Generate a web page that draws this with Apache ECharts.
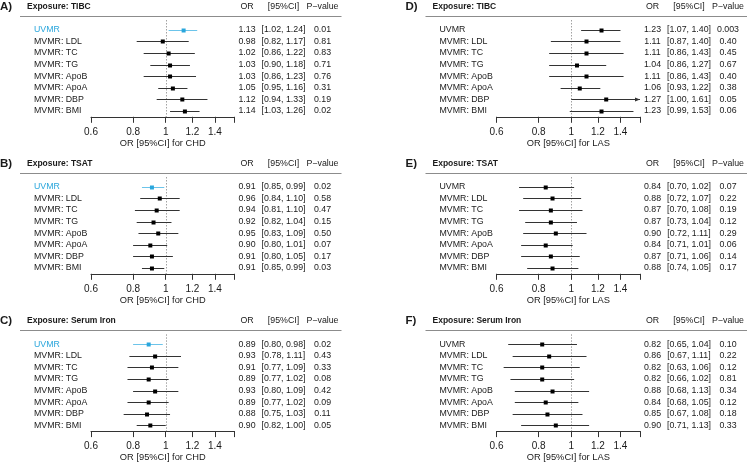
<!DOCTYPE html>
<html><head><meta charset="utf-8">
<script src="https://cdn.jsdelivr.net/npm/echarts@6/dist/echarts.min.js"></script>
<style>html,body{margin:0;padding:0;background:#fff}#c{width:750px;height:465px}</style>
</head><body><div id="c"></div>
<script>
// ---- data ----
const rowLabels = ['UVMR','MVMR: LDL','MVMR: TC','MVMR: TG','MVMR: ApoB','MVMR: ApoA','MVMR: DBP','MVMR: BMI'];
const panelLetters = ['A)','B)','C)','D)','E)','F)'];
const exposures = ['TIBC','TSAT','Serum Iron','TIBC','TSAT','Serum Iron'];
const outcomes = ['CHD','CHD','CHD','LAS','LAS','LAS'];
const highlightUVMR = [true,true,true,false,false,false];
const columnHeaders = ['OR','[95%CI]','P\u2212value'];
const xTicks = [0.6,0.8,1,1.2,1.4,1.6];
const xTickLabels = [0.6,0.8,1,1.2,1.4];
const xMin = 0.6, xMax = 1.6;

// A) TIBC -> CHD
const orA = [1.13,0.98,1.02,1.03,1.03,1.05,1.12,1.14];
const loA = [1.02,0.82,0.86,0.90,0.86,0.95,0.94,1.03];
const hiA = [1.24,1.17,1.22,1.18,1.23,1.16,1.33,1.26];
const pA  = [0.01,0.81,0.83,0.71,0.76,0.31,0.19,0.02];
// B) TSAT -> CHD
const orB = [0.91,0.96,0.94,0.92,0.95,0.90,0.91,0.91];
const loB = [0.85,0.84,0.81,0.82,0.83,0.80,0.80,0.85];
const hiB = [0.99,1.10,1.10,1.04,1.09,1.01,1.05,0.99];
const pB  = [0.02,0.58,0.47,0.15,0.50,0.07,0.17,0.03];
// C) Serum Iron -> CHD
const orC = [0.89,0.93,0.91,0.89,0.93,0.89,0.88,0.90];
const loC = [0.80,0.78,0.77,0.77,0.80,0.77,0.75,0.82];
const hiC = [0.98,1.11,1.09,1.02,1.09,1.02,1.03,1.00];
const pC  = [0.02,0.43,0.33,0.08,0.42,0.09,0.11,0.05];
// D) TIBC -> LAS
const orD = [1.23,1.11,1.11,1.04,1.11,1.06,1.27,1.23];
const loD = [1.07,0.87,0.86,0.86,0.86,0.93,1.00,0.99];
const hiD = [1.40,1.40,1.43,1.27,1.43,1.22,1.61,1.53];
const pD  = [0.003,0.40,0.45,0.67,0.40,0.38,0.05,0.06];
// E) TSAT -> LAS
const orE = [0.84,0.88,0.87,0.87,0.90,0.84,0.87,0.88];
const loE = [0.70,0.72,0.70,0.73,0.72,0.71,0.71,0.74];
const hiE = [1.02,1.07,1.08,1.04,1.11,1.01,1.06,1.05];
const pE  = [0.07,0.22,0.19,0.12,0.29,0.06,0.14,0.17];
// F) Serum Iron -> LAS
const orF = [0.82,0.86,0.82,0.82,0.88,0.84,0.85,0.90];
const loF = [0.65,0.67,0.63,0.66,0.68,0.68,0.67,0.71];
const hiF = [1.04,1.11,1.06,1.02,1.13,1.05,1.08,1.13];
const pF  = [0.10,0.22,0.12,0.81,0.34,0.12,0.18,0.33];

const panels = [
  {or:orA, lo:loA, hi:hiA, p:pA},
  {or:orB, lo:loB, hi:hiB, p:pB},
  {or:orC, lo:loC, hi:hiC, p:pC},
  {or:orD, lo:loD, hi:hiD, p:pD},
  {or:orE, lo:loE, hi:hiE, p:pE},
  {or:orF, lo:loF, hi:hiF, p:pF}
];

// ---- layout / style ----
const FONT = "'Liberation Sans', Arial, Helvetica, sans-serif";
const gridLeft = [91, 91, 91, 496.5, 496.5, 496.5];
const gridTop = [24, 181, 338.3, 24, 181, 338.3];
const gridW = 143.5, gridH = 92.8;
const BLUE = '#2aa6dc', BLUE_LINE = '#6cc4ea', TXT = '#1a1a1a';
const fmtP = v => v < 0.01 ? v.toFixed(3) : v.toFixed(2);

const grids = [], xAxes = [], yAxes = [], series = [];
panels.forEach((pd, i) => {
  grids.push({left: gridLeft[i], top: gridTop[i], width: gridW, height: gridH});
  xAxes.push({
    type: 'value', gridIndex: i,
    min: Math.log(xMin), max: Math.log(xMax),
    splitLine: {show: false},
    axisLine: {show: true, lineStyle: {color: '#333', width: 1}},
    axisTick: {show: true, length: 6, customValues: xTicks.map(Math.log), lineStyle: {color: '#333', width: 1}},
    axisLabel: {customValues: xTickLabels.map(Math.log), margin: 10.5, fontSize: 10, color: TXT, fontFamily: FONT,
      formatter: v => String(+Math.exp(v).toFixed(2))},
    name: 'OR [95%CI] for ' + outcomes[i], nameLocation: 'middle', nameGap: 22,
    nameTextStyle: {fontSize: 9.3, color: TXT, fontFamily: FONT}
  });
  yAxes.push({
    type: 'category', gridIndex: i, data: rowLabels, inverse: true,
    axisLine: {show: false}, axisTick: {show: false}, splitLine: {show: false},
    axisLabel: {interval: 0, align: 'left', margin: 57, fontSize: 8.8, fontFamily: FONT,
      color: (val) => (highlightUVMR[i] && val === 'UVMR') ? BLUE : TXT}
  });
  yAxes.push({
    type: 'category', gridIndex: i, data: rowLabels, inverse: true, position: 'right',
    axisLine: {show: false}, axisTick: {show: false}, splitLine: {show: false},
    axisLabel: {interval: 0, align: 'left', margin: 4, fontSize: 8.8, fontFamily: FONT, color: TXT,
      formatter: (val, idx) => '{a|' + pd.or[idx].toFixed(2) + '}{b|[' + pd.lo[idx].toFixed(2) + ', ' +
        pd.hi[idx].toFixed(2) + ']}{c|' + fmtP(pd.p[idx]) + '}',
      rich: {
        a: {width: 17, align: 'center', fontSize: 8.8, fontFamily: FONT, color: TXT},
        b: {width: 56, align: 'center', fontSize: 8.8, fontFamily: FONT, color: TXT},
        c: {width: 22, align: 'center', fontSize: 8.8, fontFamily: FONT, color: TXT}
      }}
  });

  // decorations: header texts, rule, dotted null line
  series.push({
    type: 'custom', xAxisIndex: i, yAxisIndex: 2 * i, clip: false, silent: true, z: 1,
    data: [[0, 0]],
    renderItem: (params, api) => {
      const cs = params.coordSys;
      const left = cs.x, top = cs.y, right = cs.x + cs.width, bottom = cs.y + cs.height;
      const x1 = Math.round(api.coord([0, 0])[0]) + 0.5;
      const hy = top - 17.5;
      const ry = Math.round(top - 8) + 0.5;
      const txt = (s, x, y, font, align) => ({type: 'text', x: x, y: y,
        style: {text: s, font: font, fill: TXT, align: align, verticalAlign: 'middle'}});
      return {type: 'group', children: [
        {type: 'line', shape: {x1: left - 71, y1: ry, x2: right + 107, y2: ry}, style: {stroke: '#8c8c8c', lineWidth: 1}},
        {type: 'line', shape: {x1: x1, y1: top - 4, x2: x1, y2: bottom}, style: {stroke: '#8a8a8a', lineWidth: 0.8, lineDash: [1.5, 1.5]}},
        txt(panelLetters[i], left - 91, hy, 'bold 11.5px ' + FONT, 'left'),
        txt('Exposure: ' + exposures[i], left - 64, hy, 'bold 8.5px ' + FONT, 'left'),
        txt(columnHeaders[0], right + 12.5, hy, '8.8px ' + FONT, 'center'),
        txt(columnHeaders[1], right + 49, hy, '8.8px ' + FONT, 'center'),
        txt(columnHeaders[2], right + 88, hy, '8.8px ' + FONT, 'center')
      ]};
    }
  });

  // confidence intervals and point estimates
  series.push({
    type: 'custom', xAxisIndex: i, yAxisIndex: 2 * i, clip: false, z: 3,
    encode: {x: [1, 2, 3], y: 0},
    data: rowLabels.map((r, j) => [j, Math.log(pd.or[j]), Math.log(pd.lo[j]), Math.log(pd.hi[j]),
      (highlightUVMR[i] && r === 'UVMR') ? 1 : 0]),
    renderItem: (params, api) => {
      const cs = params.coordSys;
      const row = api.value(0);
      const c = api.coord([api.value(1), row]);
      const cy = Math.round(c[1]) + 0.5;
      const lxRaw = api.coord([api.value(2), row])[0];
      const hxRaw = api.coord([api.value(3), row])[0];
      const xs = cs.x, xe = cs.x + cs.width;
      const lx = Math.max(lxRaw, xs), hx = Math.min(hxRaw, xe);
      const hl = api.value(4) === 1;
      const lc = hl ? BLUE_LINE : '#333333';
      const sc = hl ? BLUE : '#000';
      const ch = [{type: 'line', shape: {x1: lx, y1: cy, x2: hx, y2: cy}, style: {stroke: lc, lineWidth: 1}}];
      if (hxRaw > xe) ch.push({type: 'polygon', shape: {points: [[xe, cy], [xe - 5, cy - 2], [xe - 5, cy + 2]]}, style: {fill: lc}});
      if (lxRaw < xs) ch.push({type: 'polygon', shape: {points: [[xs, cy], [xs + 5, cy - 2], [xs + 5, cy + 2]]}, style: {fill: lc}});
      ch.push({type: 'rect', shape: {x: c[0] - 2, y: cy - 2, width: 4, height: 4}, style: {fill: sc}});
      return {type: 'group', children: ch};
    }
  });
});

const chart = echarts.init(document.getElementById('c'), null, {renderer: 'canvas'});
chart.setOption({
  animation: false,
  backgroundColor: '#fff',
  textStyle: {fontFamily: FONT},
  grid: grids, xAxis: xAxes, yAxis: yAxes, series: series
});
</script>
</body></html>
